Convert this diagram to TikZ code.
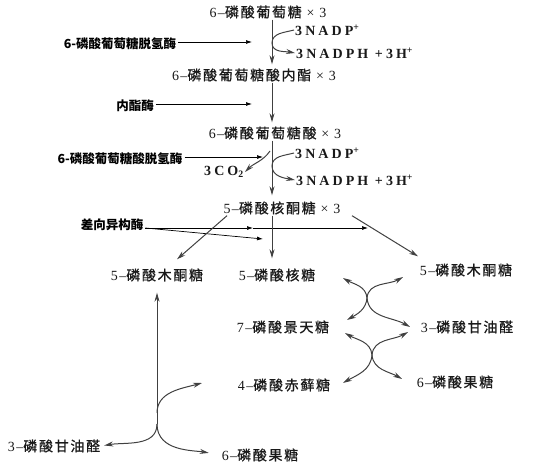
\documentclass[tikz,border=0pt]{standalone}
\usepackage{fontspec}
\setmainfont{Liberation Serif}[LetterSpace=10]
\newfontfamily\formfont{Liberation Serif}[LetterSpace=22]
\newfontfamily\cjk{Noto Sans CJK SC}[LetterSpace=12, FakeBold=0.8]
\newfontfamily\cjkbf{Noto Sans CJK SC}
\usetikzlibrary{arrows.meta}
\tikzstyle{chem} = [font=\fontsize{14}{16}\selectfont, inner sep=1pt, text=black!90]
\tikzstyle{formula} = [chem, font=\formfont\bfseries\fontsize{14}{16}\selectfont, anchor=west]
\tikzstyle{enzyme} = [font=\cjkbf\bfseries\fontsize{12.5}{14}\selectfont, inner sep=2pt]
\tikzstyle{flow} = [draw=black!75, line width=1pt, -{Stealth[length=9pt,width=5pt]}]
\tikzstyle{hint} = [draw=black, line width=0.7pt, -{Latex[length=6pt,width=4pt]}]
\newcommand{\zh}[1]{{\cjk #1}}

\begin{document}
\begin{tikzpicture}[x=1pt,y=1pt]
\useasboundingbox (0,0) rectangle (535,-463);
\coordinate (ax) at (272,0);
% oxidative part
\node[chem] (g6p) at (268,-12) {6–\zh{磷酸葡萄糖} × 3};
\node[chem] (lac) at (254,-75) {6–\zh{磷酸葡萄糖酸内酯} × 3};
\node[chem] (glu) at (275,-133) {6–\zh{磷酸葡萄糖酸} × 3};
\node[chem] (ru5p) at (282,-208) {5–\zh{磷酸核酮糖} × 3};
\node[formula] (nadp1) at (294,-30) {3NADP\textsuperscript{+}};
\node[formula] (nadph1) at (295,-53) {3NADPH +3H\textsuperscript{+}};
\node[formula] (nadp2) at (294,-153) {3NADP\textsuperscript{+}};
\node[formula] (nadph2) at (295,-180) {3NADPH +3H\textsuperscript{+}};
\node[formula, anchor=center] (co2) at (224,-172) {3CO\textsubscript{2}};
\draw[flow, shorten >=3pt] (g6p.south -| ax) -- (lac.north -| ax);
\draw[flow, shorten >=3pt] (lac.south -| ax) -- (glu.north -| ax);
\draw[flow, shorten >=5pt] (glu.south -| ax) -- (ru5p.north -| ax);
\coordinate (b1) at (272,-43);
\draw[flow] (nadp1.west) to[out=195,in=90] (b1) to[out=-90,in=170] (nadph1.west);
\coordinate (b2) at (272,-166);
\coordinate (b2c) at (270,-151);
\draw[flow] (nadp2.west) to[out=195,in=90] (b2) to[out=-90,in=170] (nadph2.west);
\draw[flow] (b2c) to[out=-125,in=45] (co2.east);
% enzymes
\node[enzyme] (enz1) at (120,-44) {6-磷酸葡萄糖脱氢酶};
\node[enzyme] (enz2) at (135,-106) {内酯酶};
\node[enzyme] (enz3) at (120,-159) {6-磷酸葡萄糖酸脱氢酶};
\node[enzyme] (enz4) at (112,-225) {差向异构酶};
\coordinate (t1) at (252,-42);
\coordinate (t2) at (252,-104);
\coordinate (t3) at (263,-157);
\coordinate (t4a) at (253,-228);
\coordinate (t4b) at (368,-228);
\coordinate (t4c) at (263,-239);
\draw[hint] (enz1.east |- t1) -- (t1);
\draw[hint] (enz2.east |- t2) -- (t2);
\draw[hint] (enz3.east |- t3) -- (t3);
\draw[hint] (enz4.east |- t4a) -- (t4a);
\draw[hint] (t4a) -- (t4b);
\draw[hint] (enz4.east |- t4a) -- (t4c);
% non-oxidative part
\node[chem] (xu5pL) at (157,-275) {5–\zh{磷酸木酮糖}};
\node[chem] (r5p) at (277,-275) {5–\zh{磷酸核糖}};
\node[chem] (xu5pR) at (466,-270) {5–\zh{磷酸木酮糖}};
\node[chem] (s7p) at (283,-327) {7–\zh{磷酸景天糖}};
\node[chem] (gapR) at (467,-327) {3–\zh{磷酸甘油醛}};
\node[chem] (e4p) at (284,-385) {4–\zh{磷酸赤藓糖}};
\node[chem] (f6pR) at (455,-382) {6–\zh{磷酸果糖}};
\node[chem] (gapL) at (54,-446) {3–\zh{磷酸甘油醛}};
\node[chem] (f6pB) at (260,-455) {6–\zh{磷酸果糖}};
\draw[flow] ([xshift=-55pt]ru5p.south) -- ([xshift=20pt,yshift=8pt]xu5pL.north);
\draw[flow, shorten >=9pt] (ru5p.south -| ax) -- (r5p.north -| ax);
\draw[flow] ([xshift=70pt]ru5p.south) -- ([xshift=-48pt,yshift=6pt]xu5pR.north);
% transketolase / transaldolase crossings
\coordinate (x1) at (367,-298);
\coordinate (x1a) at (343,-278);
\coordinate (x1b) at (403,-277);
\coordinate (x1c) at (347,-320);
\coordinate (x1d) at (410,-327);
\draw[flow] (x1) to[out=95,in=-30] (x1a);
\draw[flow] (x1) to[out=85,in=210] (x1b);
\draw[flow] (x1) to[out=-95,in=30] (x1c);
\draw[flow] (x1) to[out=-85,in=150] (x1d);
\coordinate (x2) at (372,-355);
\coordinate (x2a) at (345,-333);
\coordinate (x2b) at (408,-332);
\coordinate (x2c) at (343,-383);
\coordinate (x2d) at (402,-379);
\draw[flow] (x2) to[out=95,in=-30] (x2a);
\draw[flow] (x2) to[out=85,in=210] (x2b);
\draw[flow] (x2) to[out=-95,in=30] (x2c);
\draw[flow] (x2) to[out=-85,in=150] (x2d);
% back to xylulose
\coordinate (y0) at (157,-424);
\coordinate (y1) at (157,-413);
\coordinate (yt) at (202,-383);
\draw[flow] (y0) -- ([yshift=-10pt]xu5pL.south);
\draw[flow] (y1) to[out=90,in=195] (yt);
\draw[flow, shorten >=3pt] (y0) to[out=-90,in=10] (gapL.east);
\draw[flow, shorten >=12pt] (y0) to[out=-90,in=170] (f6pB.west);
\end{tikzpicture}
\end{document}
